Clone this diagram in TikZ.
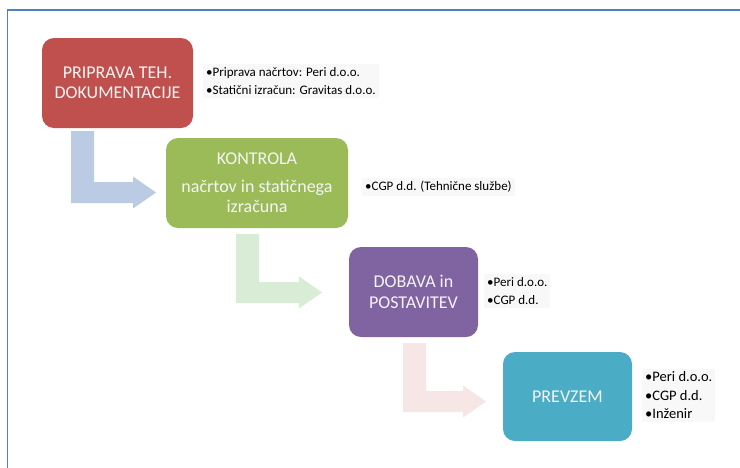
\documentclass[tikz,border=0pt]{standalone}
\usepackage{fontspec}
\setmainfont{Carlito}
\usetikzlibrary{calc}
\definecolor{framec}{HTML}{4F81BD}
\definecolor{redc}{HTML}{C0504D}
\definecolor{greenc}{HTML}{9BBB59}
\definecolor{purplec}{HTML}{8064A2}
\definecolor{tealc}{HTML}{4BACC6}
\definecolor{arrblue}{HTML}{BACBE3}
\definecolor{arrgreen}{HTML}{D9ECD6}
\definecolor{arrpink}{HTML}{F6E6E6}
\definecolor{notebg}{HTML}{F8F8F8}
\definecolor{stagetext}{HTML}{F4F4F4}
\newcommand\bentarrow[6]{% #1 colour, #2 name, #3 X, #4 Y(top), #5 B(bottom), #6 tip ; head start = tip-23
  \fill[#1] (#3,#4) -- ({#3+23},#4) -- ({#3+23},{#5-21}) -- ({#6-23},{#5-21})
    -- ({#6-23},{#5-10.5-16}) -- (#6,{#5-10.5}) coordinate (#2) -- ({#6-23},{#5-10.5+16})
    -- ({#6-23},#5) -- (#3,#5) -- cycle;}
\begin{document}
\begin{tikzpicture}[x=1pt,y=-1pt,
  stage/.style={rounded corners=12pt, draw=none, text=stagetext, align=center,
    font=\fontsize{18}{20.5}\selectfont, inner sep=0pt},
  note/.style={anchor=west, align=left, fill=notebg, inner sep=3pt,
    font=\fontsize{13}{18}\selectfont, text=black}]
\useasboundingbox (0,0) rectangle (740,467);
\fill[white] (0,0) rectangle (740,467);
\draw[framec, line width=1.8pt] (7.5,468) -- (7.5,10) -- (741,10);

% stage boxes
\node[stage, fill=redc, minimum width=151pt, minimum height=90pt] (s1) at (117.5,83)
  {PRIPRAVA TEH.\\DOKUMENTACIJE};
\node[stage, fill=greenc, minimum width=182pt, minimum height=90pt] (s2) at (257,183)
  {KONTROLA\\[7pt]načrtov in statičnega\\izračuna};
\node[stage, fill=purplec, minimum width=129pt, minimum height=90pt] (s3) at (413.5,292)
  {DOBAVA in\\POSTAVITEV};
\node[stage, fill=tealc, minimum width=129pt, minimum height=89pt] (s4) at (567.5,396.5)
  {PREVZEM};

% bent arrows
\bentarrow{arrblue}{a1}{71}{131}{203}{156}
\bentarrow{arrgreen}{a2}{236}{234}{303}{322}
\bentarrow{arrpink}{a3}{403}{343}{412}{486}

% notes
\node[note] (n1) at (203,81) {\textbullet Priprava načrtov: Peri d.o.o.\\\textbullet Statični izračun: Gravitas d.o.o.};
\node[note] (n2) at (362,187) {\textbullet CGP d.d. (Tehnične službe)};
\node[note] (n3) at (484,291) {\textbullet Peri d.o.o.\\\textbullet CGP d.d.};
\node[note, font=\fontsize{14.5}{18.5}\selectfont] (n4) at (642,395.5) {\textbullet Peri d.o.o.\\\textbullet CGP d.d.\\\textbullet Inženir};
\end{tikzpicture}
\end{document}
